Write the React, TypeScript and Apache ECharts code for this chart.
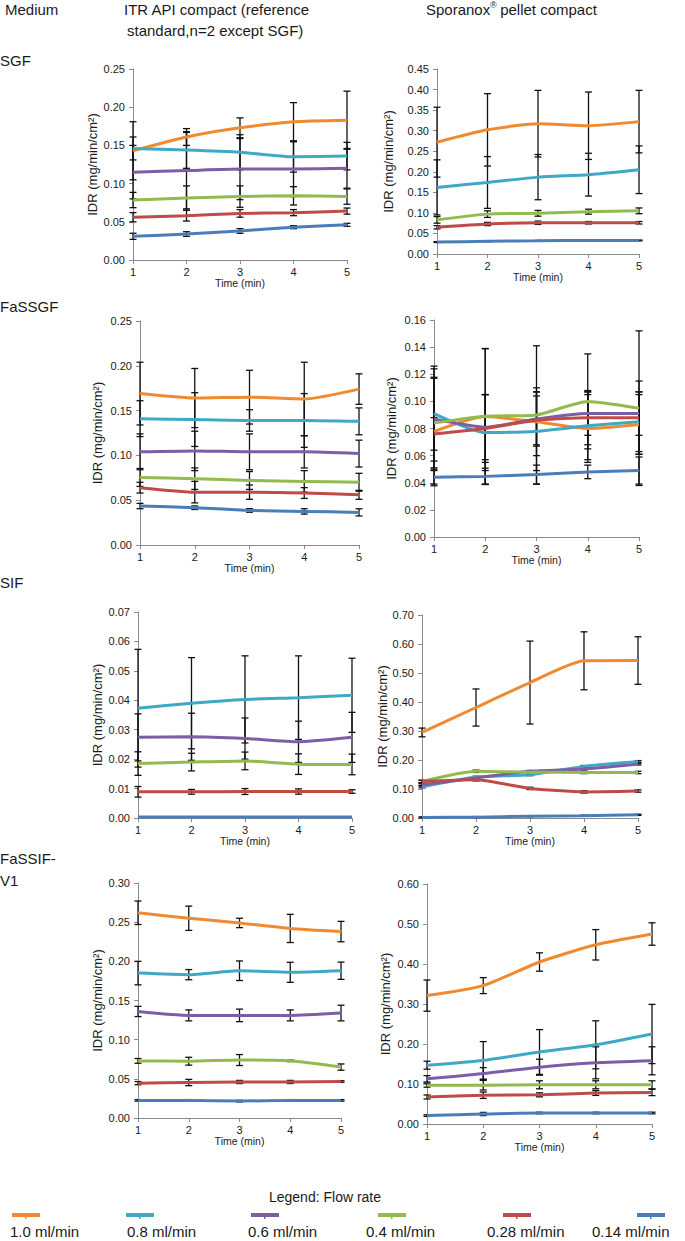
import React, { useEffect, useRef } from 'react';
import * as echarts from 'echarts';

const times = [1, 2, 3, 4, 5];
const flowRates = ['1.0 ml/min', '0.8 ml/min', '0.6 ml/min', '0.4 ml/min', '0.28 ml/min', '0.14 ml/min'];
const seriesColors = ['#F08A30', '#3FA9C5', '#7D5EA6', '#92BA4F', '#BF4B47', '#4A7EBB'];
const mediaLabels = ['SGF', 'FaSSGF', 'SIF', 'FaSSIF-', 'V1'];
const columnTitles = ['Medium', 'ITR API compact (reference', 'standard,n=2 except SGF)', 'Sporanox', '\u00AE', ' pellet compact'];

// mean IDR per flow rate (order: 1.0, 0.8, 0.6, 0.4, 0.28, 0.14 ml/min); null = not shown
const sgfItrMean = [
  [0.143, 0.161, 0.173, 0.181, 0.183],
  [0.146, 0.144, 0.141, 0.135, 0.136],
  [0.115, 0.117, 0.119, 0.119, 0.120],
  [0.0785, 0.081, 0.083, 0.084, 0.083],
  [0.056, 0.058, 0.061, 0.062, 0.064],
  [0.031, 0.034, 0.038, 0.043, 0.046],
];
const sgfItrErr = [
  [0.038, 0.011, 0.013, 0.025, 0.038],
  [0.015, 0.024, 0.023, 0.020, 0.018],
  [0.035, 0.050, 0.040, 0.036, 0.026],
  [0.010, 0.016, 0.014, 0.012, 0.010],
  [0.006, 0.007, 0.005, 0.004, 0.004],
  [0.004, 0.003, 0.003, 0.002, 0.002],
];
const sgfSpoMean = [
  [0.272, 0.302, 0.317, 0.312, 0.322],
  [0.162, 0.174, 0.187, 0.193, 0.205],
  null,
  [0.083, 0.097, 0.099, 0.103, 0.105],
  [0.065, 0.073, 0.076, 0.076, 0.076],
  [0.029, 0.031, 0.032, 0.033, 0.033],
];
const sgfSpoErr = [
  [0.085, 0.088, 0.081, 0.082, 0.076],
  [0.067, 0.063, 0.055, 0.052, 0.058],
  null,
  [0.008, 0.008, 0.007, 0.006, 0.007],
  [0.004, 0.004, 0.004, 0.003, 0.003],
  [0.001, 0.001, 0.001, 0.001, 0.001],
];
const fassgfItrMean = [
  [0.169, 0.164, 0.165, 0.163, 0.174],
  [0.141, 0.140, 0.139, 0.139, 0.138],
  [0.104, 0.105, 0.104, 0.104, 0.102],
  [0.0754, 0.074, 0.072, 0.071, 0.070],
  [0.064, 0.059, 0.059, 0.058, 0.056],
  [0.0435, 0.0416, 0.0386, 0.0375, 0.0364],
];
const fassgfItrErr = [
  [0.035, 0.033, 0.030, 0.041, 0.017],
  [0.020, 0.030, 0.012, 0.030, 0.015],
  [0.020, 0.022, 0.020, 0.018, 0.015],
  [0.010, 0.012, 0.010, 0.012, 0.010],
  [0.006, 0.012, 0.008, 0.006, 0.005],
  [0.003, 0.002, 0.002, 0.003, 0.004],
];
const fassgfSpoMean = [
  [0.0778, 0.0888, 0.085, 0.080, 0.083],
  [0.091, 0.077, 0.078, 0.082, 0.085],
  [0.087, 0.081, 0.087, 0.091, 0.091],
  [0.084, 0.089, 0.090, 0.100, 0.095],
  [0.076, 0.080, 0.086, 0.088, 0.088],
  [0.044, 0.0447, 0.046, 0.048, 0.049],
];
const fassgfSpoErr = [
  [0.040, 0.050, 0.025, 0.025, 0.022],
  [0.035, 0.028, 0.029, 0.025, 0.022],
  [0.037, 0.024, 0.020, 0.016, 0.016],
  [0.033, 0.050, 0.051, 0.035, 0.057],
  [0.012, 0.025, 0.018, 0.020, 0.027],
  [0.005, 0.006, 0.007, 0.005, 0.010],
];
const sifItrMean = [
  null,
  [0.0373, 0.039, 0.0403, 0.0409, 0.0417],
  [0.0274, 0.0276, 0.027, 0.0259, 0.0274],
  [0.0185, 0.019, 0.0194, 0.0183, 0.0182],
  [0.0089, 0.0089, 0.009, 0.009, 0.009],
  [0.0003, 0.0003, 0.0003, 0.0003, 0.0003],
];
const sifItrErr = [
  null,
  [0.020, 0.0155, 0.0148, 0.0142, 0.0126],
  [0.008, 0.008, 0.007, 0.007, 0.0085],
  [0.004, 0.003, 0.003, 0.0035, 0.0035],
  [0.0018, 0.0008, 0.001, 0.0009, 0.0006],
  [0, 0, 0, 0, 0],
];
const sifSpoMean = [
  [0.295, 0.381, 0.467, 0.542, 0.543],
  [0.107, 0.141, 0.149, 0.178, 0.195],
  [0.115, 0.138, 0.161, 0.169, 0.186],
  [0.126, 0.161, 0.158, 0.157, 0.157],
  [0.126, 0.132, 0.102, 0.090, 0.093],
  [0.002, 0.003, 0.006, 0.008, 0.011],
];
const sifSpoErr = [
  [0.015, 0.064, 0.143, 0.100, 0.082],
  [0.003, 0.003, 0.003, 0.003, 0.003],
  [0.003, 0.003, 0.003, 0.003, 0.003],
  [0.004, 0.004, 0.004, 0.004, 0.004],
  [0.004, 0.004, 0.004, 0.004, 0.004],
  [0.002, 0.002, 0.002, 0.002, 0.002],
];
const fassifItrMean = [
  [0.262, 0.255, 0.249, 0.242, 0.238],
  [0.185, 0.183, 0.188, 0.186, 0.188],
  [0.136, 0.131, 0.131, 0.131, 0.134],
  [0.0729, 0.0725, 0.074, 0.073, 0.065],
  [0.0445, 0.0453, 0.046, 0.046, 0.0466],
  [0.0225, 0.0225, 0.0216, 0.0225, 0.0225],
];
const fassifItrErr = [
  [0.015, 0.0155, 0.006, 0.018, 0.013],
  [0.015, 0.0065, 0.0125, 0.0128, 0.011],
  [0.0065, 0.007, 0.008, 0.007, 0.010],
  [0.003, 0.005, 0.007, 0.001, 0.004],
  [0.002, 0.004, 0.002, 0.002, 0.001],
  [0.001, 0.001, 0.001, 0.001, 0.001],
];
const fassifSpoMean = [
  [0.321, 0.346, 0.405, 0.448, 0.475],
  [0.147, 0.159, 0.180, 0.198, 0.225],
  [0.113, 0.126, 0.142, 0.153, 0.158],
  [0.097, 0.097, 0.098, 0.098, 0.098],
  [0.0675, 0.072, 0.073, 0.0775, 0.079],
  [0.021, 0.025, 0.0275, 0.0275, 0.0275],
];
const fassifSpoErr = [
  [0.039, 0.020, 0.023, 0.038, 0.028],
  [0.010, 0.047, 0.056, 0.060, 0.074],
  [0.008, 0.015, 0.020, 0.040, 0.035],
  [0.005, 0.012, 0.010, 0.010, 0.010],
  [0.005, 0.008, 0.005, 0.006, 0.008],
  [0.002, 0.004, 0.002, 0.002, 0.002],
];

const yMaxes = [0.25, 0.45, 0.25, 0.16, 0.07, 0.7, 0.3, 0.6];
const yIntervals = [0.05, 0.05, 0.05, 0.02, 0.01, 0.1, 0.05, 0.1];

const FONT = '"Liberation Sans", Arial, sans-serif';

// layout of the 8 plot areas
const layout = [
  { left: 133, top: 69, width: 214, height: 191, nameGap: 34 },
  { left: 437, top: 69, width: 202, height: 185, nameGap: 42 },
  { left: 140, top: 321, width: 219, height: 224, nameGap: 36 },
  { left: 434, top: 320, width: 205, height: 217, nameGap: 36 },
  { left: 138, top: 612, width: 214, height: 206, nameGap: 34 },
  { left: 422, top: 615, width: 216, height: 203, nameGap: 33 },
  { left: 138, top: 883, width: 203, height: 235, nameGap: 34 },
  { left: 427, top: 884, width: 225, height: 240, nameGap: 35 },
];

const panelMeans = [sgfItrMean, sgfSpoMean, fassgfItrMean, fassgfSpoMean, sifItrMean, sifSpoMean, fassifItrMean, fassifSpoMean];
const panelErrs = [sgfItrErr, sgfSpoErr, fassgfItrErr, fassgfSpoErr, sifItrErr, sifSpoErr, fassifItrErr, fassifSpoErr];

function errorBarRender(params: any, api: any) {
  const x = api.value(0);
  const lo = api.value(1);
  const hi = api.value(2);
  const pHi = api.coord([x, hi]);
  const pLo = api.coord([x, lo]);
  const hw = 3.5;
  const st = { stroke: '#111', lineWidth: 1.3 };
  return {
    type: 'group',
    children: [
      { type: 'line', shape: { x1: pHi[0], y1: pHi[1], x2: pLo[0], y2: pLo[1] }, style: st },
      { type: 'line', shape: { x1: pHi[0] - hw, y1: pHi[1], x2: pHi[0] + hw, y2: pHi[1] }, style: st },
      { type: 'line', shape: { x1: pLo[0] - hw, y1: pLo[1], x2: pLo[0] + hw, y2: pLo[1] }, style: st },
    ],
  };
}

function txt(text: string, x: number, y: number, size: number, align = 'left', extra: any = {}) {
  return {
    type: 'text',
    x,
    y,
    silent: true,
    style: {
      text,
      fontSize: size,
      fontFamily: FONT,
      fill: '#1a1a1a',
      textAlign: align,
      align,
      textVerticalAlign: 'middle',
      verticalAlign: 'middle',
      ...extra,
    },
  };
}

export default function App() {
  const ref = useRef<HTMLDivElement>(null);
  useEffect(() => {
    if (!ref.current) return;
    const chart = echarts.init(ref.current, null, { renderer: 'svg' });
    const grids: any[] = [];
    const xAxes: any[] = [];
    const yAxes: any[] = [];
    const series: any[] = [];
    layout.forEach((g, i) => {
      grids.push({ left: g.left, top: g.top, width: g.width, height: g.height, containLabel: false });
      xAxes.push({
        type: 'value', gridIndex: i, min: 1, max: 5, interval: 1,
        axisLine: { show: true, lineStyle: { color: '#8a8a8a', width: 1 } },
        axisTick: { show: true, length: 4, lineStyle: { color: '#8a8a8a' } },
        splitLine: { show: false },
        axisLabel: { color: '#1a1a1a', fontSize: 11, margin: 6, fontFamily: FONT },
        name: 'Time (min)', nameLocation: 'middle', nameGap: 17,
        nameTextStyle: { color: '#1a1a1a', fontSize: 10.5, fontFamily: FONT },
      });
      yAxes.push({
        type: 'value', gridIndex: i, min: 0, max: yMaxes[i], interval: yIntervals[i],
        axisLine: { show: true, lineStyle: { color: '#8a8a8a', width: 1 } },
        axisTick: { show: true, length: 4, lineStyle: { color: '#8a8a8a' } },
        splitLine: { show: false },
        axisLabel: { color: '#1a1a1a', fontSize: 11, margin: 8, fontFamily: FONT, formatter: (v: number) => v.toFixed(2) },
        name: 'IDR (mg/min/cm\u00B2)', nameLocation: 'middle', nameGap: g.nameGap, nameRotate: 90,
        nameTextStyle: { color: '#1a1a1a', fontSize: 13, fontFamily: FONT },
      });
      const means = panelMeans[i];
      const errs = panelErrs[i];
      means.forEach((m: any, s: number) => {
        if (!m) return;
        const e = errs[s] || [];
        series.push({
          type: 'custom', name: flowRates[s] + ' err', xAxisIndex: i, yAxisIndex: i, z: 2, clip: false,
          renderItem: errorBarRender,
          encode: { x: 0, y: [1, 2] },
          data: times.map((t, k) => [t, m[k] - (e[k] || 0), m[k] + (e[k] || 0)]).filter((d, k) => (e[k] || 0) > 0),
          silent: true,
        });
      });
      means.forEach((m: any, s: number) => {
        if (!m) return;
        series.push({
          type: 'line', name: flowRates[s], xAxisIndex: i, yAxisIndex: i, z: 3,
          data: times.map((t, k) => [t, m[k]]),
          showSymbol: false, smooth: 0.2,
          lineStyle: { width: 3, color: seriesColors[s] },
          itemStyle: { color: seriesColors[s] },
          silent: true,
        });
      });
    });

    const graphic: any[] = [
      txt(columnTitles[0], 5, 9, 15),
      txt(columnTitles[1], 124, 9, 15),
      txt(columnTitles[2], 127, 30, 15),
      txt(columnTitles[3], 426, 9, 15),
      txt(columnTitles[4], 426 + 64, 5, 9),
      txt(columnTitles[5], 426 + 70, 9, 15),
      txt(mediaLabels[0], 0, 60, 15),
      txt(mediaLabels[1], 0, 306, 15),
      txt(mediaLabels[2], 0, 582, 15),
      txt(mediaLabels[3], 0, 858, 15),
      txt(mediaLabels[4], 0, 880, 15),
      txt('Legend: Flow rate', 325, 1197, 14, 'center'),
    ];
    const swatchX = [12, 126, 251, 378, 503, 637];
    const labelX = [10, 127, 248, 366, 487, 592];
    flowRates.forEach((f, s) => {
      graphic.push({ type: 'rect', shape: { x: swatchX[s], y: 1213, width: 28, height: 4 }, style: { fill: seriesColors[s] }, silent: true });
      graphic.push({ type: 'rect', shape: { x: swatchX[s] + 13, y: 1217, width: 1.5, height: 2 }, style: { fill: seriesColors[s] }, silent: true });
      graphic.push(txt(f, labelX[s], 1231, 15));
    });

    chart.setOption({
      animation: false,
      backgroundColor: '#ffffff',
      grid: grids,
      xAxis: xAxes,
      yAxis: yAxes,
      series,
      graphic,
    });
    return () => chart.dispose();
  }, []);
  return <div ref={ref} style={{ position: 'absolute', left: 0, top: 0, width: 685, height: 1241, background: '#fff' }} />;
}
